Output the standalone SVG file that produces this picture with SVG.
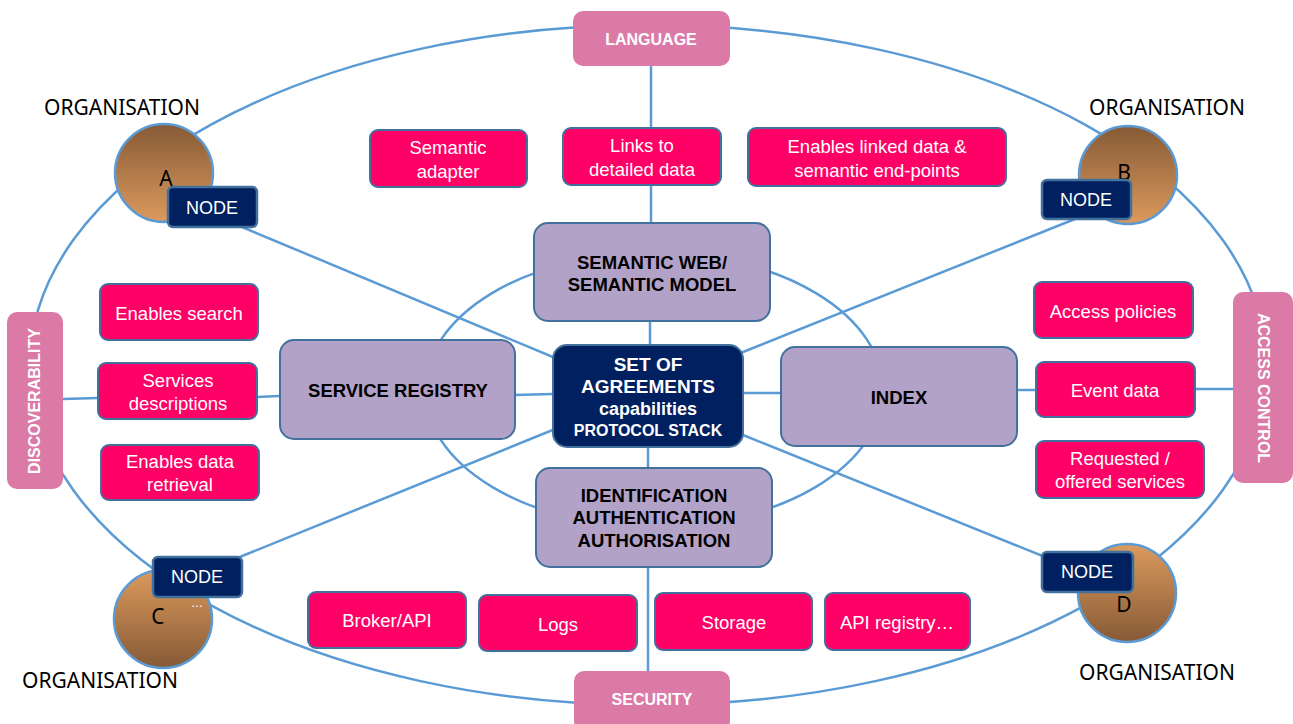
<svg xmlns="http://www.w3.org/2000/svg" width="1293" height="724" viewBox="0 0 1293 724">
  <defs>
    <linearGradient id="orgDown" x1="0" y1="0" x2="0" y2="1">
      <stop offset="0" stop-color="#865a36"/>
      <stop offset="1" stop-color="#dc9a5d"/>
    </linearGradient>
    <linearGradient id="orgUp" x1="0" y1="0" x2="0" y2="1">
      <stop offset="0" stop-color="#dc9a5d"/>
      <stop offset="1" stop-color="#865a36"/>
    </linearGradient>
    <style>
      .wire { fill: none; stroke: #5b9bd5; stroke-width: 2.5; }
      .theme { fill: #db7aa7; }
      .theme-t { font-family: "Liberation Sans", Arial, sans-serif; font-weight: bold; font-size: 16px; fill: #ffffff; text-anchor: middle; dominant-baseline: central; }
      .item { fill: #ff0066; stroke: #41719c; stroke-width: 2; }
      .item-t { font-family: "Liberation Sans", Arial, sans-serif; font-size: 18.5px; fill: #ffffff; text-anchor: middle; dominant-baseline: central; }
      .block { fill: #b3a2c7; stroke: #41719c; stroke-width: 2; }
      .block-t { font-family: "Liberation Sans", Arial, sans-serif; font-weight: bold; font-size: 18.5px; fill: #000000; text-anchor: middle; dominant-baseline: central; }
      .core { fill: #002060; stroke: #41719c; stroke-width: 2; }
      .core-t { font-family: "Liberation Sans", Arial, sans-serif; font-weight: bold; fill: #ffffff; text-anchor: middle; dominant-baseline: central; }
      .node { fill: #002060; stroke: #41719c; stroke-width: 2.5; }
      .node-t { font-family: "Liberation Sans", Arial, sans-serif; font-size: 18px; fill: #ffffff; text-anchor: middle; dominant-baseline: central; }
      .org { stroke: #5b9bd5; stroke-width: 2.5; }
      .org-t { font-family: "Noto Sans", "Open Sans", sans-serif; font-size: 21px; fill: #000000; text-anchor: middle; }
    </style>
  </defs>

  <rect width="1293" height="724" fill="#ffffff"/>

  <!-- connectors -->
  <g id="connectors">
    <ellipse class="wire" cx="648" cy="365" rx="618" ry="340"/>
    <ellipse class="wire" cx="654" cy="390" rx="229" ry="137"/>
    <!-- vertical axis -->
    <line class="wire" x1="651" y1="66" x2="651" y2="223"/>
    <line class="wire" x1="650" y1="321" x2="650" y2="345"/>
    <line class="wire" x1="648" y1="447" x2="648" y2="468"/>
    <line class="wire" x1="648" y1="567" x2="648" y2="671"/>
    <!-- horizontal axis -->
    <line class="wire" x1="63" y1="399" x2="98" y2="398"/>
    <line class="wire" x1="257" y1="397" x2="279" y2="396"/>
    <line class="wire" x1="515" y1="395" x2="553" y2="394"/>
    <line class="wire" x1="743" y1="393" x2="781" y2="393"/>
    <line class="wire" x1="1017" y1="390" x2="1036" y2="390"/>
    <line class="wire" x1="1195" y1="389" x2="1233" y2="389"/>
    <!-- diagonals to the nodes -->
    <line class="wire" x1="230" y1="222" x2="560" y2="360"/>
    <line class="wire" x1="1080" y1="217" x2="738" y2="354"/>
    <line class="wire" x1="230" y1="561" x2="560" y2="427"/>
    <line class="wire" x1="1055" y1="561" x2="738" y2="433"/>
  </g>

  <!-- theme labels on the outer ring -->
  <g id="language">
    <rect class="theme" x="573" y="11" width="157" height="55" rx="10"/>
    <text class="theme-t" x="651" y="39">LANGUAGE</text>
  </g>
  <g id="security">
    <rect class="theme" x="574" y="671" width="156" height="60" rx="10"/>
    <text class="theme-t" x="652" y="699">SECURITY</text>
  </g>
  <g id="discoverability">
    <rect class="theme" x="7" y="312" width="56" height="177" rx="10"/>
    <text class="theme-t" transform="translate(34 401) rotate(-90)" x="0" y="0">DISCOVERABILITY</text>
  </g>
  <g id="access-control">
    <rect class="theme" x="1233" y="292" width="60" height="191" rx="10"/>
    <text class="theme-t" transform="translate(1263 388) rotate(90)" x="0" y="0">ACCESS CONTROL</text>
  </g>

  <!-- top items -->
  <g id="semantic-adapter">
    <rect class="item" x="370" y="130" width="157" height="57" rx="8"/>
    <text class="item-t" x="448" y="147">Semantic</text>
    <text class="item-t" x="448" y="171">adapter</text>
  </g>
  <g id="links-detailed">
    <rect class="item" x="563" y="128" width="158" height="57" rx="8"/>
    <text class="item-t" x="642" y="145">Links to</text>
    <text class="item-t" x="642" y="169">detailed data</text>
  </g>
  <g id="linked-data">
    <rect class="item" x="748" y="128" width="258" height="58" rx="8"/>
    <text class="item-t" x="877" y="146">Enables linked data &amp;</text>
    <text class="item-t" x="877" y="170">semantic end-points</text>
  </g>

  <!-- left items -->
  <g id="enables-search">
    <rect class="item" x="100" y="284" width="158" height="56" rx="8"/>
    <text class="item-t" x="179" y="313">Enables search</text>
  </g>
  <g id="services-descriptions">
    <rect class="item" x="98" y="363" width="159" height="56" rx="8"/>
    <text class="item-t" x="178" y="380">Services</text>
    <text class="item-t" x="178" y="403">descriptions</text>
  </g>
  <g id="enables-retrieval">
    <rect class="item" x="101" y="445" width="158" height="55" rx="8"/>
    <text class="item-t" x="180" y="461">Enables data</text>
    <text class="item-t" x="180" y="484">retrieval</text>
  </g>

  <!-- right items -->
  <g id="access-policies">
    <rect class="item" x="1034" y="282" width="159" height="56" rx="8"/>
    <text class="item-t" x="1113" y="311">Access policies</text>
  </g>
  <g id="event-data">
    <rect class="item" x="1036" y="362" width="159" height="55" rx="8"/>
    <text class="item-t" x="1115" y="390">Event data</text>
  </g>
  <g id="requested-services">
    <rect class="item" x="1036" y="441" width="168" height="57" rx="8"/>
    <text class="item-t" x="1120" y="458">Requested /</text>
    <text class="item-t" x="1120" y="481">offered services</text>
  </g>

  <!-- bottom items -->
  <g id="broker-api">
    <rect class="item" x="308" y="592" width="158" height="56" rx="8"/>
    <text class="item-t" x="387" y="620">Broker/API</text>
  </g>
  <g id="logs">
    <rect class="item" x="479" y="595" width="158" height="56" rx="8"/>
    <text class="item-t" x="558" y="624">Logs</text>
  </g>
  <g id="storage">
    <rect class="item" x="655" y="593" width="157" height="57" rx="8"/>
    <text class="item-t" x="734" y="622">Storage</text>
  </g>
  <g id="api-registry">
    <rect class="item" x="825" y="593" width="145" height="57" rx="8"/>
    <text class="item-t" x="897" y="622">API registry…</text>
  </g>

  <!-- inner blocks -->
  <g id="semantic-web">
    <rect class="block" x="534" y="223" width="236" height="98" rx="14"/>
    <text class="block-t" x="652" y="262">SEMANTIC WEB/</text>
    <text class="block-t" x="652" y="284">SEMANTIC MODEL</text>
  </g>
  <g id="service-registry">
    <rect class="block" x="280" y="340" width="235" height="99" rx="14"/>
    <text class="block-t" x="398" y="390">SERVICE REGISTRY</text>
  </g>
  <g id="index">
    <rect class="block" x="781" y="347" width="236" height="99" rx="14"/>
    <text class="block-t" x="899" y="397">INDEX</text>
  </g>
  <g id="identification">
    <rect class="block" x="536" y="468" width="236" height="99" rx="14"/>
    <text class="block-t" x="654" y="495">IDENTIFICATION</text>
    <text class="block-t" x="654" y="517">AUTHENTICATION</text>
    <text class="block-t" x="654" y="540">AUTHORISATION</text>
  </g>
  <g id="agreements">
    <rect class="core" x="553" y="345" width="190" height="102" rx="14"/>
    <text class="core-t" x="648" y="364" font-size="19">SET OF</text>
    <text class="core-t" x="648" y="386" font-size="19">AGREEMENTS</text>
    <text class="core-t" x="648" y="409" font-size="18">capabilities</text>
    <text class="core-t" x="648" y="430" font-size="16">PROTOCOL STACK</text>
  </g>

  <!-- organisations -->
  <g id="org-a">
    <text class="org-t" x="122" y="115">ORGANISATION</text>
    <circle class="org" cx="164" cy="173" r="49" fill="url(#orgDown)"/>
    <text class="org-t" x="166" y="186">A</text>
    <rect class="node" x="168" y="187" width="89" height="40" rx="5"/>
    <text class="node-t" x="212" y="208">NODE</text>
  </g>
  <g id="org-b">
    <text class="org-t" x="1167" y="115">ORGANISATION</text>
    <circle class="org" cx="1128" cy="175" r="49" fill="url(#orgDown)"/>
    <text class="org-t" x="1124" y="180">B</text>
    <rect class="node" x="1042" y="180" width="89" height="39" rx="5"/>
    <text class="node-t" x="1086" y="200">NODE</text>
  </g>
  <g id="org-c">
    <text class="org-t" x="100" y="688">ORGANISATION</text>
    <circle class="org" cx="163" cy="619" r="49" fill="url(#orgUp)"/>
    <text class="org-t" x="158" y="624">C</text>
    <text x="197" y="607" font-family="Liberation Sans, Arial, sans-serif" font-size="12" fill="#ffffff" text-anchor="middle">…</text>
    <rect class="node" x="153" y="557" width="89" height="40" rx="5"/>
    <text class="node-t" x="197" y="577">NODE</text>
  </g>
  <g id="org-d">
    <text class="org-t" x="1157" y="680">ORGANISATION</text>
    <circle class="org" cx="1127" cy="593" r="49" fill="url(#orgUp)"/>
    <text class="org-t" x="1124" y="612">D</text>
    <rect class="node" x="1042" y="552" width="91" height="40" rx="5"/>
    <text class="node-t" x="1087" y="572">NODE</text>
  </g>
</svg>
